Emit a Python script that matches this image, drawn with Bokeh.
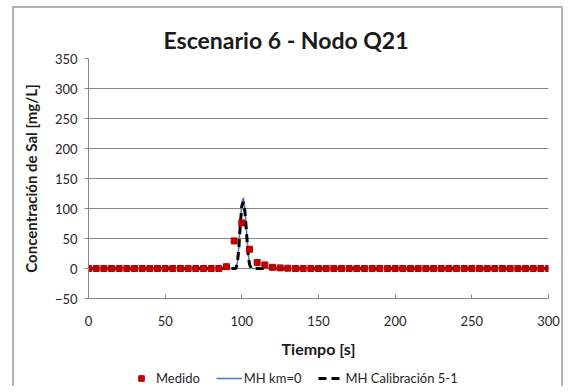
from bokeh.plotting import figure
from bokeh.models import Legend, LegendItem, FixedTicker, Range1d
from bokeh.layouts import column
from bokeh.embed import file_html
from bokeh.resources import INLINE

# ---- data ----
t_med = list(range(0, 301, 5))
v_med = [0.0] * len(t_med)
_peak = {90: 3, 95: 46, 100: 76, 105: 32, 110: 10, 115: 6, 120: 2, 125: 1, 130: 0.5}
for k, v in _peak.items():
    v_med[t_med.index(k)] = v

t_mod = [0, 95, 96, 97, 98, 99, 100, 101, 102, 103, 104, 105, 106, 107, 300]
v_km0 = [0, 0, 0, 8, 35, 78, 110, 118, 100, 65, 28, 8, 1, 0, 0]
v_cal = [0, 0, 0, 7, 32, 73, 104, 111, 95, 62, 26, 7, 1, 0, 0]

x_ticks = [0, 50, 100, 150, 200, 250, 300]
y_ticks = [-50, 0, 50, 100, 150, 200, 250, 300, 350]

FONT = "Lato"
GRAY = "#868686"
TXT = "#262626"
BORDER = "2px solid #b4b4b4"

p = figure(width=551, height=352, output_backend="svg", toolbar_location=None,
           x_range=Range1d(0, 300), y_range=Range1d(-50, 350),
           min_border_left=74, min_border_right=17, min_border_top=50, min_border_bottom=62,
           title="Escenario 6 - Nodo Q21")
p.styles = {"border-top": BORDER, "border-left": BORDER, "border-right": BORDER,
            "margin-left": "12px", "margin-top": "6px"}
p.outline_line_color = None
p.background_fill_color = "white"
p.border_fill_color = "white"

p.title.align = "left"
p.title.offset = 75
p.title.text_font = FONT
p.title.text_font_size = "23px"
p.title.text_font_style = "bold"
p.title.text_color = "#1a1a1a"

# axes
p.xaxis.ticker = FixedTicker(ticks=x_ticks)
p.yaxis.ticker = FixedTicker(ticks=y_ticks)
p.xaxis.axis_label = "Tiempo [s]"
p.yaxis.axis_label = "Concentración de Sal [mg/L]"
for ax in (p.xaxis, p.yaxis):
    ax.axis_line_color = GRAY
    ax.major_tick_line_color = GRAY
    ax.minor_tick_line_color = None
    ax.major_label_text_font = FONT
    ax.major_label_text_font_size = "13px"
    ax.major_label_text_color = TXT
    ax.axis_label_text_font = FONT
    ax.axis_label_text_font_style = "bold"
    ax.axis_label_text_font_size = "16px"
    ax.axis_label_text_color = "#1a1a1a"
p.xaxis.major_tick_in = 4
p.xaxis.major_tick_out = 0
p.xaxis.major_label_standoff = 17
p.xaxis.axis_label_standoff = 10
p.yaxis.major_tick_in = 0
p.yaxis.major_tick_out = 4
p.yaxis.major_label_standoff = 7
p.yaxis.axis_label_standoff = 12
p.yaxis.axis_label_text_font_size = "15px"

p.xgrid.grid_line_color = None
p.ygrid.grid_line_color = GRAY
p.ygrid.grid_line_width = 1

# glyphs
km0_style = dict(line_color="#4F81BD", line_width=1.6)
cal_style = dict(line_color="black", line_width=3, line_dash="8 5")
med_style = dict(marker="square", size=6, fill_color="#C00000", line_color="#C00000")
p.line(t_mod, v_km0, **km0_style)
p.line(t_mod, v_cal, **cal_style)
p.scatter(t_med, v_med, **med_style)

# legend strip (separate figure so it can sit below the axis title);
# its ranges lie outside the data, so only the legend is visible there
lg = figure(width=551, height=28, output_backend="svg", toolbar_location=None,
            x_axis_type=None, y_axis_type=None,
            x_range=Range1d(-20, -10), y_range=Range1d(-200, -100),
            min_border_left=0, min_border_right=0, min_border_top=0, min_border_bottom=0)
lg.styles = {"border-left": BORDER, "border-right": BORDER, "margin-left": "12px"}
lg.outline_line_color = None
lg.grid.grid_line_color = None
l_med = lg.scatter(t_med, v_med, **med_style)
l_km0 = lg.line(t_mod, v_km0, **km0_style)
l_cal = lg.line(t_mod, v_cal, **cal_style)

legend = Legend(items=[LegendItem(label="Medido", renderers=[l_med]),
                       LegendItem(label="MH km=0", renderers=[l_km0]),
                       LegendItem(label="MH Calibración 5-1", renderers=[l_cal])],
                orientation="horizontal", location=(40, 0),
                glyph_width=26, glyph_height=14, label_standoff=2, spacing=16,
                padding=0, margin=0, border_line_alpha=0, background_fill_alpha=0,
                label_text_font=FONT, label_text_font_size="13px", label_text_color=TXT,
                label_height=14)
lg.add_layout(legend, "center")

layout = column(p, lg, spacing=0)
open("out.html", "w").write(file_html(layout, INLINE))
